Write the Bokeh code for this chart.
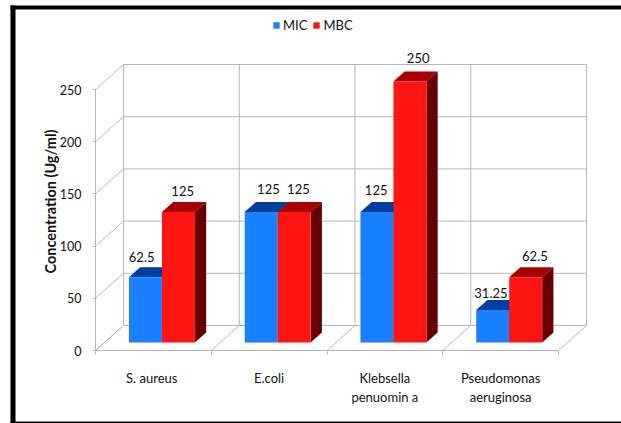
import math

from bokeh.core.properties import value
from bokeh.embed import file_html
from bokeh.models import BoxAnnotation, ColumnDataSource, FixedTicker, Label, Legend, LegendItem, LinearAxis, Range1d
from bokeh.plotting import figure
from bokeh.resources import INLINE

# Measured concentrations per organism
categories = ["S.  aureus", "E.coli", "Klebsella\npenuomin a", "Pseudomonas\naeruginosa"]
mic = [62.5, 125, 125, 31.25]
mbc = [125, 125, 250, 62.5]
mic_labels = ["62.5", "125", "125", "31.25"]
mbc_labels = ["125", "125", "250", "62.5"]
y_ticks = [0, 50, 100, 150, 200, 250]

W, H = 621, 423
FONT = "Lato"

# Pixel scale of the pseudo-3D box
X_UNIT = 115.75          # px per category
Y_UNIT = 1.044           # px per concentration unit
AXIS_X, AXIS_Y = 95, 350  # screen position of the front-left axis corner
BOX_DX, BOX_DY = 28, 25   # offset from the front plane to the back wall (px)
BAR_DEPTH_NEAR = 0.32     # bar front face, as a fraction of box depth
BAR_DEPTH_FAR = 0.72      # bar back face
BAR_GAP = 24.5 / X_UNIT
BAR_W = 33 / X_UNIT

GRID = "#b7b7b7"
MIC_COLORS = dict(front="#1a80ff", top="#003f9e", side="#00307a")
MBC_COLORS = dict(front="#ff1414", top="#a80000", side="#660000")


def project(cat, val, depth):
    """Map (category position, concentration, depth 0..1) to plot coordinates."""
    return cat + depth * BOX_DX / X_UNIT, val + depth * BOX_DY / Y_UNIT


p = figure(
    frame_width=W, frame_height=H, output_backend="svg", toolbar_location=None, min_border=0,
    x_axis_type=None, y_axis_type=None,
    x_range=Range1d(-AXIS_X / X_UNIT, (W - AXIS_X) / X_UNIT),
    y_range=Range1d((AXIS_Y - H) / Y_UNIT, AXIS_Y / Y_UNIT),
)
p.grid.visible = False
p.outline_line_color = None
p.background_fill_color = "white"
p.border_fill_color = "white"

# Back wall, side wall and floor grid lines
n = len(categories)
top = y_ticks[-1]
seg = {"x0": [], "y0": [], "x1": [], "y1": []}


def add_seg(a, b):
    seg["x0"].append(a[0]); seg["y0"].append(a[1])
    seg["x1"].append(b[0]); seg["y1"].append(b[1])


for t in y_ticks:
    add_seg(project(0, t, 1), project(n, t, 1))
    add_seg(project(0, t, 0), project(0, t, 1))
for c in range(n + 1):
    add_seg(project(c, 0, 1), project(c, top, 1))
    add_seg(project(c, 0, 0), project(c, 0, 1))
p.segment("x0", "y0", "x1", "y1", source=ColumnDataSource(seg), line_color=GRID, line_width=1)


def draw_series(values, slot, colors):
    x0 = [c + BAR_GAP + slot * BAR_W for c in range(n)]
    x1 = [x + BAR_W for x in x0]
    fronts = [[project(a, 0, BAR_DEPTH_NEAR), project(b, v, BAR_DEPTH_NEAR)]
              for a, b, v in zip(x0, x1, values)]
    tops_x, tops_y, sides_x, sides_y = [], [], [], []
    for a, b, v in zip(x0, x1, values):
        corners = [project(a, v, BAR_DEPTH_NEAR), project(b, v, BAR_DEPTH_NEAR),
                   project(b, v, BAR_DEPTH_FAR), project(a, v, BAR_DEPTH_FAR)]
        tops_x.append([q[0] for q in corners]); tops_y.append([q[1] for q in corners])
        corners = [project(b, 0, BAR_DEPTH_NEAR), project(b, v, BAR_DEPTH_NEAR),
                   project(b, v, BAR_DEPTH_FAR), project(b, 0, BAR_DEPTH_FAR)]
        sides_x.append([q[0] for q in corners]); sides_y.append([q[1] for q in corners])
    p.patches(tops_x, tops_y, fill_color=colors["top"], line_color=None)
    p.patches(sides_x, sides_y, fill_color=colors["side"], line_color=None)
    return p.quad(left=[f[0][0] for f in fronts], right=[f[1][0] for f in fronts],
                  bottom=[f[0][1] for f in fronts], top=[f[1][1] for f in fronts],
                  fill_color=colors["front"], line_color=None)


mic_front = draw_series(mic, 0, MIC_COLORS)
mbc_front = draw_series(mbc, 1, MBC_COLORS)

# Value labels above each bar, nudged in screen pixels
mic_nudge = [(-15, 10), (-4, 13), (-12, 12), (-13, 7)]
mbc_nudge = [(-7, 11), (-7, 13), (-3, 14), (-2, 11)]


def draw_labels(values, labels, slot, nudges):
    xs, ys = [], []
    for c, v in enumerate(values):
        q = project(c + BAR_GAP + (slot + 0.5) * BAR_W, v, BAR_DEPTH_FAR)
        xs.append(q[0]); ys.append(q[1])
    src = ColumnDataSource(dict(x=xs, y=ys, text=labels,
                                dx=[q[0] for q in nudges], dy=[-q[1] for q in nudges]))
    p.text("x", "y", text="text", source=src, x_offset="dx", y_offset="dy",
           text_font=value(FONT), text_font_size="13px", text_color="#111111",
           text_align="center", text_baseline="middle")


draw_labels(mic, mic_labels, 0, mic_nudge)
draw_labels(mbc, mbc_labels, 1, mbc_nudge)

# Axes sit on the front plane of the box
yaxis = LinearAxis(fixed_location=0, ticker=FixedTicker(ticks=y_ticks), bounds=(0, top))
yaxis.axis_line_color = GRID
yaxis.major_tick_line_color = GRID
yaxis.major_tick_out = 3
yaxis.major_tick_in = 0
yaxis.minor_tick_line_color = None
yaxis.major_label_standoff = 11
yaxis.major_label_text_font = FONT
yaxis.major_label_text_font_size = "12.5px"
yaxis.major_label_text_color = "#111111"
p.add_layout(yaxis, "left")

p.add_layout(Label(text="Concentration (Ug/ml)", x=50, y=H - 201, x_units="screen", y_units="screen",
                   angle=math.pi / 2, text_align="center", text_baseline="middle",
                   text_font=FONT, text_font_size="14.5px", text_font_style="bold",
                   text_color="#111111"))

centers = [c + 0.5 for c in range(n)]
xaxis = LinearAxis(fixed_location=0, bounds=(0, n),
                   ticker=FixedTicker(ticks=centers, minor_ticks=list(range(n + 1))),
                   major_label_overrides=dict(zip(centers, categories)))
xaxis.axis_line_color = GRID
xaxis.major_tick_line_color = None
xaxis.minor_tick_line_color = GRID
xaxis.minor_tick_out = 4
xaxis.minor_tick_in = 0
xaxis.major_label_standoff = 13
xaxis.major_label_text_font = FONT
xaxis.major_label_text_font_size = "13px"
xaxis.major_label_text_color = "#111111"
p.add_layout(xaxis, "below")

legend = Legend(items=[LegendItem(label="MIC", renderers=[mic_front]),
                       LegendItem(label="MBC", renderers=[mbc_front])],
                orientation="horizontal", location=(272, 390),
                background_fill_alpha=0, border_line_color=None,
                glyph_width=8, glyph_height=8, label_standoff=3, spacing=5,
                padding=4, margin=0,
                label_text_font=FONT, label_text_font_size="13px", label_text_color="#111111")
p.add_layout(legend, "center")

# Heavy black page frame on the left, top and bottom edges; screen y counts up from the bottom
frame = dict(fill_color="black", fill_alpha=1, line_color=None, level="overlay",
             left_units="screen", right_units="screen", top_units="screen", bottom_units="screen")
p.add_layout(BoxAnnotation(left=10, right=15, top=H - 5, bottom=0, **frame))
p.add_layout(BoxAnnotation(left=10, right=W, top=H - 5, bottom=H - 9, **frame))
p.add_layout(BoxAnnotation(left=10, right=W, top=2, bottom=0, **frame))

open("out.html", "w").write(file_html(p, INLINE))
